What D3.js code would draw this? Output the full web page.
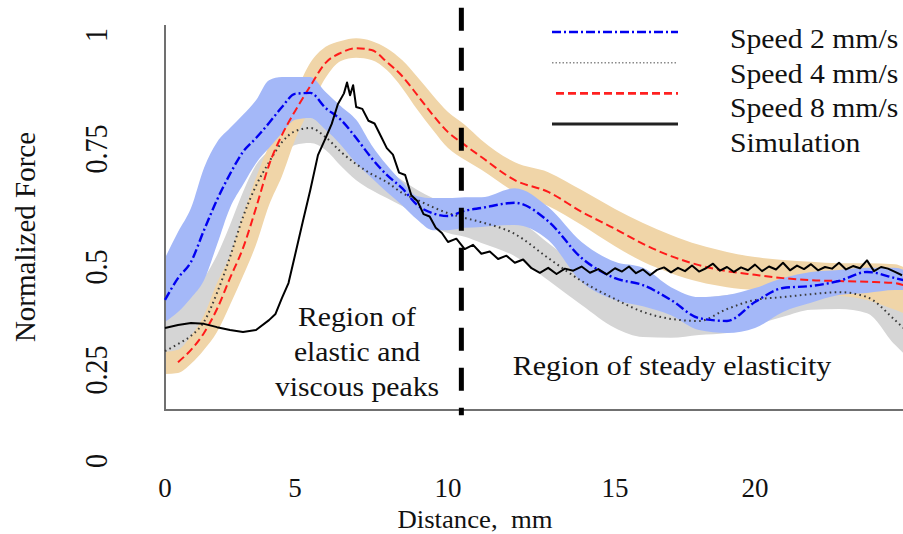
<!DOCTYPE html>
<html>
<head>
<meta charset="utf-8">
<script src="https://cdn.jsdelivr.net/npm/d3@7"></script>
<style>
  body { margin: 0; background: #fff; }
  svg { display: block; }
  text { font-family: "Liberation Serif", "Times New Roman", serif; fill: #111; }
</style>
</head>
<body>
<svg id="chart" width="903" height="534"></svg>
<script>
// sample positions (mm) shared by the three measured speeds
const distance = [0, 0.5, 1, 1.5, 2, 2.5, 3, 3.5, 4, 4.5, 5, 5.5, 6, 6.5, 7, 7.5, 8, 8.5, 9, 9.5,
  10, 10.5, 11, 12, 13, 14, 15, 16, 17, 18, 19, 20, 21, 22, 23, 24, 25, 25.3];

const speed2 = [0.42, 0.473, 0.511, 0.578, 0.642, 0.697, 0.744, 0.774, 0.807, 0.842,
  0.871, 0.873, 0.840, 0.814, 0.774, 0.731, 0.695, 0.667, 0.631, 0.614,
  0.608, 0.619, 0.625, 0.636, 0.597, 0.519, 0.473, 0.456, 0.420, 0.376,
  0.369, 0.415, 0.449, 0.454, 0.466, 0.488, 0.473, 0.468];
const speed2Hi = [0.519, 0.574, 0.625, 0.710, 0.765, 0.796, 0.825, 0.857, 0.901, 0.908,
  0.908, 0.908, 0.875, 0.844, 0.814, 0.759, 0.716, 0.680, 0.650, 0.646,
  0.646, 0.648, 0.648, 0.667, 0.627, 0.553, 0.511, 0.498, 0.451, 0.427,
  0.432, 0.449, 0.473, 0.488, 0.493, 0.498, 0.498, 0.493];
const speed2Lo = [0.367, 0.391, 0.425, 0.468, 0.547, 0.625, 0.674, 0.720, 0.752, 0.785,
  0.814, 0.818, 0.792, 0.759, 0.720, 0.689, 0.659, 0.631, 0.600, 0.578,
  0.578, 0.583, 0.585, 0.589, 0.557, 0.464, 0.420, 0.405, 0.383, 0.347,
  0.340, 0.352, 0.391, 0.413, 0.432, 0.437, 0.444, 0.444];

const speed4 = [0.296, 0.313, 0.333, 0.367, 0.437, 0.521, 0.606, 0.672, 0.722, 0.765,
  0.789, 0.796, 0.776, 0.744, 0.718, 0.697, 0.680, 0.657, 0.642, 0.627,
  0.614, 0.604, 0.595, 0.570, 0.519, 0.466, 0.422, 0.391, 0.374, 0.369,
  0.398, 0.420, 0.427, 0.434, 0.439, 0.427, 0.371, 0.352];
const speed4Hi = [0.376, 0.396, 0.430, 0.473, 0.525, 0.589, 0.659, 0.716, 0.748, 0.787,
  0.825, 0.829, 0.803, 0.774, 0.752, 0.731, 0.706, 0.684, 0.663, 0.646,
  0.631, 0.617, 0.610, 0.600, 0.551, 0.498, 0.461, 0.439, 0.430, 0.425,
  0.432, 0.439, 0.447, 0.451, 0.449, 0.444, 0.415, 0.403];
const speed4Lo = [0.284, 0.294, 0.303, 0.323, 0.367, 0.444, 0.536, 0.610, 0.674, 0.727,
  0.759, 0.763, 0.748, 0.714, 0.684, 0.663, 0.646, 0.629, 0.610, 0.587,
  0.572, 0.564, 0.551, 0.523, 0.468, 0.408, 0.352, 0.330, 0.328, 0.335,
  0.340, 0.359, 0.379, 0.396, 0.398, 0.388, 0.311, 0.291];

const speed8 = [null, 0.269, 0.299, 0.340, 0.398, 0.473, 0.540, 0.625, 0.716, 0.781,
  0.833, 0.888, 0.939, 0.961, 0.971, 0.967, 0.941, 0.910, 0.868, 0.825,
  0.787, 0.759, 0.733, 0.684, 0.659, 0.617, 0.581, 0.549, 0.523, 0.504,
  0.490, 0.481, 0.473, 0.468, 0.466, 0.464, 0.461, 0.456];
const speed8Hi = [0.294, 0.299, 0.333, 0.383, 0.461, 0.525, 0.610, 0.689, 0.757, 0.816,
  0.871, 0.939, 0.974, 0.987, 0.993, 0.987, 0.971, 0.945, 0.908, 0.868,
  0.831, 0.803, 0.770, 0.722, 0.701, 0.663, 0.623, 0.593, 0.568, 0.547,
  0.532, 0.521, 0.515, 0.511, 0.508, 0.508, 0.506, 0.500];
const speed8Lo = [0.239, 0.242, 0.265, 0.299, 0.342, 0.408, 0.478, 0.547, 0.631, 0.693,
  0.770, 0.840, 0.906, 0.943, 0.950, 0.945, 0.923, 0.884, 0.836, 0.792,
  0.752, 0.727, 0.706, 0.659, 0.629, 0.589, 0.544, 0.511, 0.485, 0.464,
  0.451, 0.444, 0.439, 0.434, 0.430, 0.420, 0.396, 0.388];

// simulation is noisy, so it has its own denser sampling
const simDistance = [0, 0.5, 1, 1.5, 2, 2.5, 3, 3.5, 4, 4.25, 4.5, 4.75, 5, 5.25, 5.5, 5.75, 6,
  6.2, 6.4, 6.6, 6.7, 6.8, 6.9, 7, 7.2, 7.4, 7.6, 7.8, 8, 8.2, 8.4, 8.6, 8.8, 9, 9.2, 9.4, 9.6, 9.8, 10,
  10.25, 10.5, 10.75, 11, 11.25, 11.5, 11.75, 12, 12.25, 12.5, 12.75, 13, 13.25, 13.5, 13.75, 14,
  14.25, 14.5, 14.75, 15, 15.25, 15.5, 15.75, 16, 16.25, 16.5, 16.75, 17, 17.25, 17.5, 17.75, 18,
  18.25, 18.5, 18.75, 19, 19.25, 19.5, 19.75, 20, 20.25, 20.5, 20.75, 21, 21.25, 21.5, 21.75, 22,
  22.25, 22.5, 22.75, 23, 23.25, 23.5, 23.75, 24, 24.25, 24.5, 24.75, 25, 25.25];
const simForce = [0.352, 0.359, 0.364, 0.362, 0.354, 0.347, 0.342, 0.347, 0.371, 0.386, 0.425, 0.461,
  0.525, 0.595, 0.663, 0.737, 0.774,
  0.805, 0.848, 0.872, 0.896, 0.868, 0.890, 0.842, 0.838, 0.812, 0.806, 0.779, 0.752, 0.738, 0.700,
  0.695, 0.652, 0.640, 0.612, 0.607, 0.583, 0.572, 0.553,
  0.560, 0.538, 0.547, 0.528, 0.533, 0.517, 0.524, 0.509, 0.516, 0.497, 0.486, 0.498, 0.483, 0.496,
  0.491, 0.501, 0.486, 0.495, 0.482, 0.497, 0.489, 0.501, 0.485, 0.494, 0.480, 0.493, 0.499, 0.487,
  0.498, 0.490, 0.503, 0.489, 0.497, 0.507, 0.491, 0.500, 0.488, 0.499, 0.492, 0.505, 0.490, 0.501,
  0.494, 0.509, 0.492, 0.503, 0.495, 0.506, 0.492, 0.500, 0.496, 0.509, 0.494, 0.502, 0.497, 0.514,
  0.490, 0.500, 0.496, 0.488, 0.480];

const xTicks = [0, 5, 10, 15, 20];
const yTicks = [0, 0.25, 0.5, 0.75, 1];
const yTickLabels = ["0", "0.25", "0.5", "0.75", "1"];
const legendLabels = ["Speed 2 mm/s", "Speed 4 mm/s", "Speed 8 mm/s", "Simulation"];
const boundary = 10.4; // split between the two regions, mm

const svg = d3.select("#chart");

// the printed axis is not evenly spaced, so both scales are piecewise
const x = d3.scaleLinear().domain([0, 5, 10, 15, 20, 25]).range([165, 295, 448, 615, 755, 895]);
const y = d3.scaleLinear().domain([0, 0.25, 0.5, 0.75, 1]).range([461, 370, 267, 149, 35]);

function rows(values, lo, hi) {
  return distance.map(function(d, i) {
    return {d: d, v: values[i], lo: lo ? lo[i] : null, hi: hi ? hi[i] : null};
  });
}

const band = d3.area()
  .x(function(d) { return x(d.d); })
  .y0(function(d) { return y(d.lo); })
  .y1(function(d) { return y(d.hi); })
  .curve(d3.curveMonotoneX);

const smooth = d3.line()
  .defined(function(d) { return d.v != null; })
  .x(function(d) { return x(d.d); })
  .y(function(d) { return y(d.v); })
  .curve(d3.curveMonotoneX);

const series = [
  {name: "s4", data: rows(speed4, speed4Lo, speed4Hi), fill: "#d5d5d5", stroke: "#3a3a3a", dash: "1.6,3.4", w: 2},
  {name: "s8", data: rows(speed8, speed8Lo, speed8Hi), fill: "#f0d5a8", stroke: "#ff1a1a", dash: "8,4", w: 2},
  {name: "s2", data: rows(speed2, speed2Lo, speed2Hi), fill: "#a4b8f8", stroke: "#0000f0", dash: "9,3,2,3", w: 2.4}
];

// bands first
series.forEach(function(s) {
  svg.append("path").attr("d", band(s.data)).attr("fill", s.fill);
});

// frame (only left and bottom)
const frameTop = 1.022, frameBottom = 0.14, xEnd = 25.3;
svg.append("path")
  .attr("d", "M" + x(0) + "," + y(frameTop) + "V" + y(frameBottom) + "H" + x(xEnd))
  .attr("fill", "none").attr("stroke", "#707070").attr("stroke-width", 2);

series.forEach(function(s) {
  svg.append("path").attr("d", smooth(s.data)).attr("fill", "none")
    .attr("stroke", s.stroke).attr("stroke-width", s.w).attr("stroke-dasharray", s.dash);
});

const simLine = d3.line()
  .x(function(d, i) { return x(simDistance[i]); })
  .y(function(d) { return y(d); });
svg.append("path").attr("d", simLine(simForce)).attr("fill", "none")
  .attr("stroke", "#000").attr("stroke-width", 2).attr("stroke-linejoin", "round");

// region boundary
svg.append("line")
  .attr("x1", x(boundary)).attr("x2", x(boundary))
  .attr("y1", y(1.06)).attr("y2", y(0.126))
  .attr("stroke", "#000").attr("stroke-width", 5).attr("stroke-dasharray", "23,17");

// helper for the stretched serif text of the scan
function label(str, tx, ty, size, sx, anchor, rot) {
  var t = "translate(" + tx + "," + ty + ")" + (rot ? " rotate(-90)" : "") +
    (rot ? " scale(1," + sx + ")" : " scale(" + sx + ",1)");
  return svg.append("text").attr("transform", t)
    .attr("text-anchor", anchor || "middle")
    .style("font-size", size + "px").style("white-space", "pre").text(str);
}

// axes labels
yTicks.forEach(function(t, i) { label(yTickLabels[i], 107, y(t), 28, 1.12, "middle", true); });
xTicks.forEach(function(t) { label(String(t), x(t), 497, 27, 1, "middle"); });
label("Distance,  mm", 475, 528, 25, 1.07, "middle");
label("Normalized Force", 35, 237, 29, 1, "middle", true);

// region notes
label("Region of", 357, 326, 27, 1.1, "middle");
label("elastic and", 357, 361, 27, 1.1, "middle");
label("viscous peaks", 357, 396, 27, 1.1, "middle");
label("Region of steady elasticity", 672, 375, 27, 1.11, "middle");

// legend
const legendStyles = [
  {stroke: "#0000f0", dash: "9,3,2,3", w: 2.5, x0: 552},
  {stroke: "#8a8a8a", dash: "1.5,2", w: 1.6, x0: 552},
  {stroke: "#ff2020", dash: "8,4", w: 2.6, x0: 556},
  {stroke: "#222", dash: null, w: 3, x0: 552}
];
legendLabels.forEach(function(name, i) {
  var st = legendStyles[i], ly = 32 + i * 30.7;
  svg.append("line").attr("x1", st.x0).attr("x2", 678).attr("y1", ly).attr("y2", ly)
    .attr("stroke", st.stroke).attr("stroke-width", st.w).attr("stroke-dasharray", st.dash);
  label(name, 730, 48 + i * 34.7, 27, 1.1, "start");
});
</script>
</body>
</html>
